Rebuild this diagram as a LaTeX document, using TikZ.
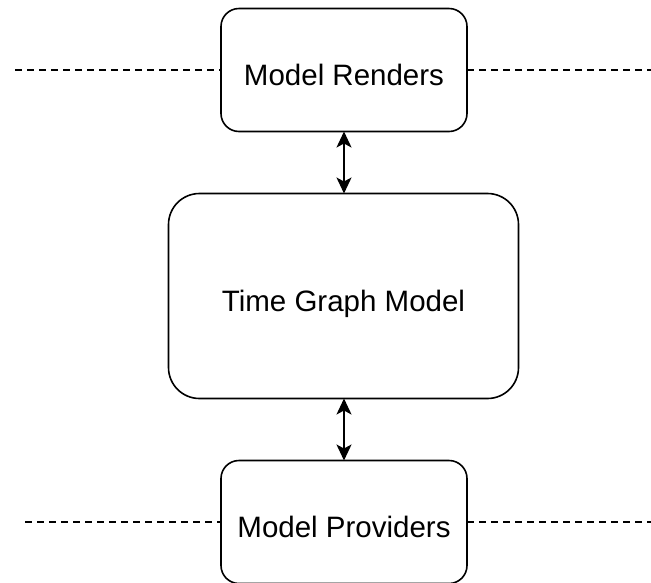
\documentclass[tikz,border=0pt]{standalone}
\usepackage{fontspec}
\setmainfont{Liberation Sans}
\usetikzlibrary{arrows.meta}
\begin{document}
\begin{tikzpicture}[x=1pt,y=-1pt,
  box/.style={draw=black, line width=1.6pt, rounded corners=#1, inner sep=0pt, outer sep=0pt,
    font=\fontsize{29.5}{35}\selectfont, text height=31pt, text depth=0pt, align=center},
  sep/.style={draw=black, line width=1.5pt, dash pattern=on 7pt off 5pt},
  link/.style={draw=black, line width=1.6pt, {Stealth[length=16pt,width=15pt,inset=4pt]}-{Stealth[length=16pt,width=15pt,inset=4pt]}}
]
\useasboundingbox (0,0) rectangle (651,582);
\node[box=18pt, minimum width=246pt, minimum height=123pt] (top) at (344,70) {Model Renders};
\node[box=31pt, minimum width=350pt, minimum height=205pt] (mid) at (343.5,296) {Time Graph Model};
\node[box=18pt, minimum width=246pt, minimum height=123pt] (bot) at (344,522) {Model Providers};
\coordinate (tl) at (15,70);
\coordinate (tr) at (651,70);
\coordinate (bl) at (25,522);
\coordinate (br) at (651,522);
\draw[sep] (tl) -- (top.west);
\draw[sep] (top.east) -- (tr);
\draw[sep] (bl) -- (bot.west);
\draw[sep] (bot.east) -- (br);
\draw[link] (top.south) -- (top.south |- mid.north);
\draw[link] (mid.south -| bot.north) -- (bot.north);
\end{tikzpicture}
\end{document}
